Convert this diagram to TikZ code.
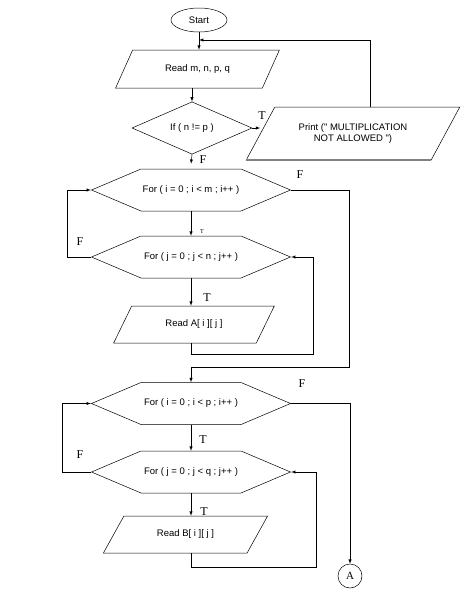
\documentclass[tikz,border=0pt]{standalone}
\usepackage{fontspec}
\setmainfont{Liberation Serif}
\newfontfamily\arialfont{Liberation Sans}
\usetikzlibrary{shapes.geometric, shapes.symbols}
\tikzset{>=latex}
\tikzset{
  box/.style={draw, align=center, inner sep=0pt, font=\arialfont\fontsize{9.5}{11}\selectfont},
  io/.style={box, trapezium, trapezium left angle=#1, trapezium right angle=180-#1, trapezium stretches=true},
  loopbox/.style={box, signal, signal to=west and east, signal pointer angle=46, minimum width=199, minimum height=42},
  tf/.style={font=\fontsize{12}{12}\selectfont, inner sep=0pt}
}
\begin{document}
\begin{tikzpicture}[x=1pt, y=-1pt, line width=0.5pt]
    \useasboundingbox(0, 0)rectangle(464, 603);
    \node[box, ellipse, minimum width=56, minimum height=24](start)at(199, 20){Start};
    \node[io=46, minimum width=165, minimum height=38](read1)at(197.5, 69){Read m, n, p, q};
    \node[box, diamond, minimum width=120, minimum height=50](cond)at(192, 128){If ( n != p )};
    \node[io=45, minimum width=214, minimum height=53](print)at(353, 133.5){Print (" MULTIPLICATION\\NOT ALLOWED ")};
    \node[loopbox](hex1)at(191, 190){For ( i = 0 ; i < m ; i++ )};
    \node[loopbox](hex2)at(191, 257){For ( j = 0 ; j < n ; j++ )};
    \node[io=47, minimum width=162, minimum height=37](readA)at(194, 324.5){Read A[ i ][ j ]};
    \node[loopbox](hex3)at(191, 403.5){For ( i = 0 ; i < p ; i++ )};
    \node[loopbox](hex4)at(191, 472){For ( j = 0 ; j < q ; j++ )};
    \node[io=43, minimum width=165, minimum height=37](readB)at(185.5, 534.5){Read B[ i ][ j ]};
    \node[draw, circle, minimum size=24, inner sep=0pt, font=\fontsize{11}{11}\selectfont](conA)at(350, 576){A};
    \draw[gray, line width=2pt](print.bottom left corner)--(print.bottom right corner);
    \coordinate(join)at(199, 40);

    \draw[->](start)--(start |- read1.north);
    \draw[->](cond.north |- read1.south)--(cond.north);
    \draw[->](cond.east)--(cond.east -| print.west);
    \draw[->]([xshift=17pt]print.north)|-(join);
    \draw[->](cond.south)--([yshift=5pt]hex1.north);
    \draw[->](hex1.east)-|(349, 367)-|(hex3.north);
    \draw[->](hex1.south)--(hex2.north);
    \draw[->](hex2.west)--++(-24, 0)|-(hex1.west);
    \draw[->](hex2.south)--(hex2.south |- readA.north);
    \draw[->](hex2.south |- readA.south)--++(0, 11)-|([xshift=22pt]hex2.east)--(hex2.east);
    \draw[->](hex3.east)-|(conA.north);
    \draw[->](hex3.south)--(hex4.north);
    \draw[->](hex4.west)--++(-29, 0)|-(hex3.west);
    \draw[->](hex4.south)--(hex4.south |- readB.north);
    \draw[->](hex4.south |- readB.south)--++(0, 14)-|([xshift=25pt]hex4.east)--(hex4.east);

    \node[tf](tPrint)at(262, 116){T};
    \node[tf](fCond)at(203, 160){F};
    \node[tf](fOuterA)at(300, 175){F};
    \node[tf, font=\fontsize{6}{6}\selectfont](tOuterA)at(202, 232){T};
    \node[tf](fInnerA)at(80, 242){F};
    \node[tf](tInnerA)at(207, 298){T};
    \node[tf](fOuterB)at(302, 384){F};
    \node[tf](tOuterB)at(203, 440){T};
    \node[tf](fInnerB)at(80, 455){F};
    \node[tf](tInnerB)at(204, 512){T};
\end{tikzpicture}
\end{document}
